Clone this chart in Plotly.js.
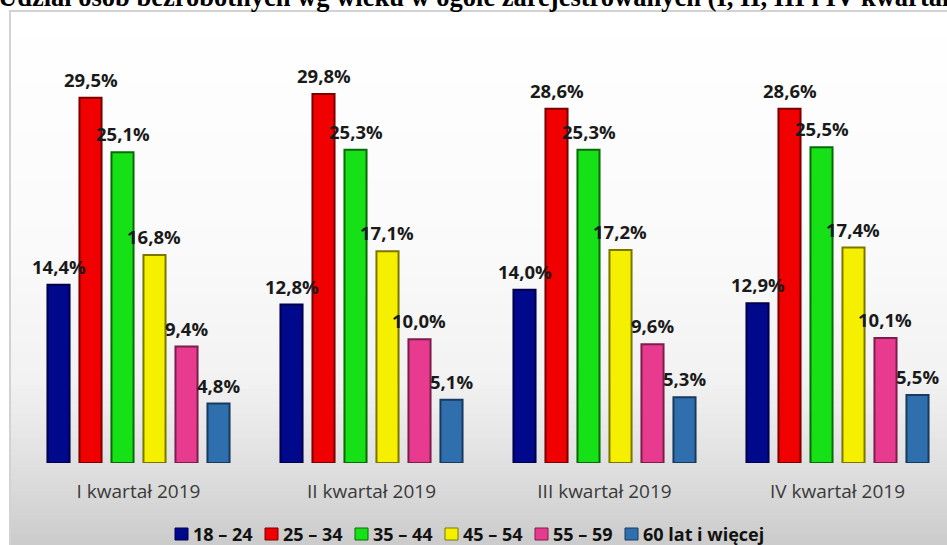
<!DOCTYPE html>
<html>
<head>
<meta charset="utf-8">
<script src="https://cdn.plot.ly/plotly-3.0.1.min.js"></script>
<style>html,body{margin:0;padding:0;background:#fff;}#chart{width:947px;height:545px;}</style>
</head>
<body>
<div id="chart"></div>
<script>
// ---- data ----
const quarters = ["I kwartał 2019", "II kwartał 2019", "III kwartał 2019", "IV kwartał 2019"];
const seriesNames = ["18 – 24", "25 – 34", "35 – 44", "45 – 54", "55 – 59", "60 lat i więcej"];
const age18_24 = [14.4, 12.8, 14.0, 12.9];
const age25_34 = [29.5, 29.8, 28.6, 28.6];
const age35_44 = [25.1, 25.3, 25.3, 25.5];
const age45_54 = [16.8, 17.1, 17.2, 17.4];
const age55_59 = [9.4, 10.0, 9.6, 10.1];
const age60plus = [4.8, 5.1, 5.3, 5.5];
const titleText = "Udział osób bezrobotnych wg wieku w ogóle zarejestrowanych (I, II, III i IV kwartał 2019)";

// ---- styles ----
const fills = ["#00088c", "#f00000", "#16e016", "#f4f000", "#e83a8e", "#2f6fae"];
const edges = ["#00004a", "#7a0000", "#0a6a0a", "#7a7600", "#7a1f4c", "#173a5e"];
const allSeries = [age18_24, age25_34, age35_44, age45_54, age55_59, age60plus];

const W = 947, H = 545;
const M = {l: 22, r: 0, t: 42, b: 82, autoexpand: false};
const plotW = W - M.l - M.r, plotH = H - M.t - M.b;
const catW = 233;
const bargap = 0.176, bargroupgap = 0.31;
const pitch = catW * (1 - bargap) / allSeries.length;
const sans = "'Open Sans', 'Noto Sans', sans-serif";

const fmt = v => v.toFixed(1).replace(".", ",") + "%";

const traces = allSeries.map((vals, i) => ({
  type: "bar",
  name: seriesNames[i],
  x: quarters,
  y: vals,
  marker: {color: fills[i], line: {color: edges[i], width: 2}},
  hoverinfo: "skip",
  showlegend: false
}));

const px2x = p => (p - M.l) / plotW;
const py2y = p => (M.t + plotH - p) / plotH;

const annotations = [];
allSeries.forEach((vals, i) => {
  vals.forEach((v, j) => {
    annotations.push({
      xref: "x", yref: "y", x: quarters[j], y: v,
      xshift: (i - (allSeries.length - 1) / 2) * pitch,
      yanchor: "bottom", yshift: 4, showarrow: false,
      text: fmt(v),
      font: {family: sans, size: 18.5, color: "#1a1a1a", weight: "bold"}
    });
  });
});

// title (clipped at top as in reference)
annotations.push({
  xref: "paper", yref: "paper", x: px2x(-4), y: py2y(-2.5), xanchor: "left", yanchor: "middle",
  showarrow: false, text: "<b>" + titleText + "</b>",
  font: {family: "'Liberation Serif', 'Times New Roman', serif", size: 26.5, color: "#000"}
});

// background frame with vertical gradient
const shapes = [];
const stops = [[11, 255], [250, 250], [380, 242], [460, 225], [545, 203]];
function greyAt(p) {
  for (let k = 0; k < stops.length - 1; k++) {
    const a = stops[k], b = stops[k + 1];
    if (p <= b[0]) return Math.round(a[1] + (b[1] - a[1]) * (p - a[0]) / (b[0] - a[0]));
  }
  return stops[stops.length - 1][1];
}
for (let p = 11; p < H; p += 6) {
  const g = greyAt(p + 3);
  shapes.push({type: "rect", xref: "paper", yref: "paper", layer: "below",
    x0: px2x(10), x1: px2x(W + 5), y0: py2y(p), y1: py2y(p + 6.5),
    fillcolor: `rgb(${g},${g},${g})`, line: {width: 0}});
}
shapes.push({type: "rect", xref: "paper", yref: "paper", layer: "below",
  x0: px2x(10), x1: px2x(W + 10), y0: py2y(11), y1: py2y(H + 10),
  fillcolor: "rgba(0,0,0,0)", line: {color: "#d2d2d2", width: 2}});

// legend row (compact, like the reference)
const legX0 = 175, legStep = 90, legY = 534, symW = 13, symH = 12;
seriesNames.forEach((name, i) => {
  const x = legX0 + i * legStep;
  shapes.push({type: "rect", xref: "paper", yref: "paper", layer: "above",
    x0: px2x(x), x1: px2x(x + symW), y0: py2y(legY + symH / 2), y1: py2y(legY - symH / 2),
    fillcolor: fills[i], line: {color: edges[i], width: 1}});
  annotations.push({xref: "paper", yref: "paper", x: px2x(x + symW + 3), y: py2y(legY),
    xanchor: "left", yanchor: "middle", showarrow: false, text: name,
    font: {family: sans, size: 18, color: "#111", weight: "bold"}});
});

const layout = {
  width: W, height: H,
  margin: M,
  paper_bgcolor: "#ffffff",
  plot_bgcolor: "rgba(0,0,0,0)",
  barmode: "group",
  bargap: bargap,
  bargroupgap: bargroupgap,
  showlegend: false,
  xaxis: {
    type: "category", range: [-0.5, -0.5 + plotW / catW],
    showgrid: false, zeroline: false, showline: false, ticks: "",
    ticklabelstandoff: 15,
    tickfont: {family: sans, size: 19, color: "#3a3a3a"},
    fixedrange: true
  },
  yaxis: {
    range: [0, 34], visible: false, showgrid: false, zeroline: false, fixedrange: true
  },
  annotations: annotations,
  shapes: shapes
};

Plotly.newPlot("chart", traces, layout, {displayModeBar: false, staticPlot: true});
</script>
</body>
</html>
